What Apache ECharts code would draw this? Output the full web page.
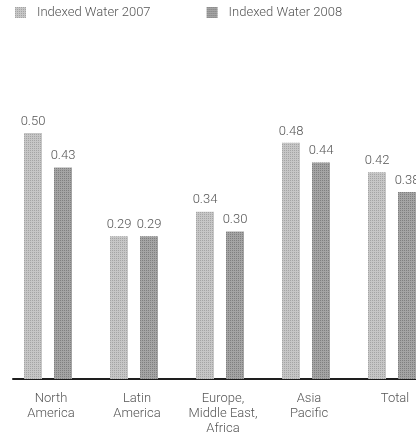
<!DOCTYPE html>
<html>
<head>
<meta charset="utf-8">
<style>
  html, body { margin: 0; padding: 0; background: #fff; }
  #chart { width: 416px; height: 445px; }
</style>
<script src="https://cdn.jsdelivr.net/npm/echarts@6/dist/echarts.min.js"></script>
</head>
<body>
<div id="chart"></div>
<script>
// Regional indexed water figures, 2007 vs 2008
const categories = ['North\nAmerica', 'Latin\nAmerica', 'Europe,\nMiddle East,\nAfrica', 'Asia\nPacific', 'Total'];
const seriesNames = ['Indexed Water 2007', 'Indexed Water 2008'];
const water2007 = [0.50, 0.29, 0.34, 0.48, 0.42];
const water2008 = [0.43, 0.29, 0.30, 0.44, 0.38];

const FONT = 'Roboto';
const WEIGHT = 300;

// Fine halftone-like texture over the bar fill
function grain(color) {
  return {
    color: color,
    symbol: 'rect',
    symbolSize: 1,
    dashArrayX: [1, 1],
    dashArrayY: [1, 1],
    rotation: 0
  };
}

const valueLabel = {
  show: true,
  position: 'top',
  distance: 5,
  fontFamily: FONT,
  fontWeight: WEIGHT,
  fontSize: 13,
  color: '#555',
  formatter: p => p.value.toFixed(2)
};

const chart = echarts.init(document.getElementById('chart'), null, { renderer: 'canvas' });

chart.setOption({
  animation: false,
  backgroundColor: '#ffffff',
  legend: {
    left: 10,
    top: 1,
    itemWidth: 11,
    itemHeight: 11,
    itemGap: 56,
    icon: 'rect',
    textStyle: { fontFamily: FONT, fontWeight: WEIGHT, fontSize: 13, color: '#555', padding: [0, 0, 0, 6] },
    data: seriesNames
  },
  grid: [
    // bars: five 86px category bands, the last running past the right edge
    { left: 5, width: 430, top: 83.8, bottom: 66, outerBoundsMode: 'none', containLabel: false },
    // baseline rule
    { left: 13, right: 0, top: 83.8, bottom: 66, outerBoundsMode: 'none', containLabel: false }
  ],
  xAxis: [
    {
      type: 'category',
      gridIndex: 0,
      data: categories,
      axisLine: { show: false },
      axisTick: { show: false },
      axisLabel: {
        fontFamily: FONT,
        fontWeight: WEIGHT,
        fontSize: 13,
        color: '#555',
        lineHeight: 15,
        margin: 12,
        interval: 0,
        padding: [0, 0, 0, 6]
      }
    },
    {
      type: 'value',
      gridIndex: 1,
      min: 0,
      max: 1,
      axisLine: { show: true, onZero: false, lineStyle: { color: '#1e1e1e', width: 2 } },
      axisTick: { show: false },
      axisLabel: { show: false },
      splitLine: { show: false }
    }
  ],
  yAxis: [
    { type: 'value', gridIndex: 0, min: 0, max: 0.6, show: false },
    { type: 'value', gridIndex: 1, min: 0, max: 1, show: false }
  ],
  series: [
    {
      name: seriesNames[0],
      type: 'bar',
      xAxisIndex: 0,
      yAxisIndex: 0,
      data: water2007,
      barWidth: 18,
      barGap: '66.7%',
      itemStyle: { color: '#c6c6c6', decal: grain('rgba(100,100,100,0.35)') },
      label: valueLabel
    },
    {
      name: seriesNames[1],
      type: 'bar',
      xAxisIndex: 0,
      yAxisIndex: 0,
      data: water2008,
      barWidth: 18,
      itemStyle: { color: '#a4a4a4', decal: grain('rgba(60,60,60,0.35)') },
      label: valueLabel
    }
  ]
});
</script>
</body>
</html>
